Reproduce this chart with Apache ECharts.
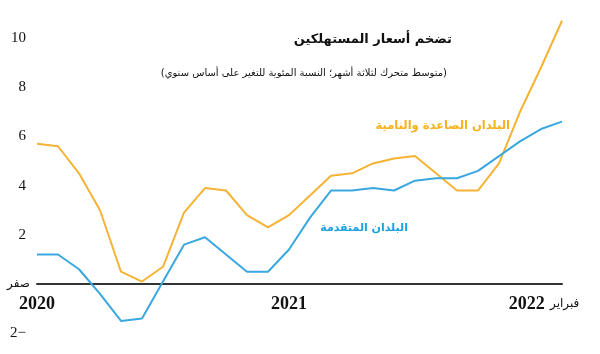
<!DOCTYPE html>
<html>
<head>
<meta charset="utf-8">
<script src="https://cdn.jsdelivr.net/npm/echarts@6/dist/echarts.min.js"></script>
<style>
  html, body { margin: 0; padding: 0; background: #fff; }
  #chart { width: 600px; height: 354px; }
</style>
</head>
<body>
<div id="chart"></div>
<script>
// monthly points, Jan 2020 .. Feb 2022 (3-month moving avg, % y/y)
const months = [
  '2020-01','2020-02','2020-03','2020-04','2020-05','2020-06','2020-07','2020-08','2020-09','2020-10','2020-11','2020-12',
  '2021-01','2021-02','2021-03','2021-04','2021-05','2021-06','2021-07','2021-08','2021-09','2021-10','2021-11','2021-12',
  '2022-01','2022-02'
];
const emerging = [5.7, 5.6, 4.5, 3.0, 0.5, 0.1, 0.7, 2.9, 3.9, 3.8, 2.8, 2.3,
                  2.8, 3.6, 4.4, 4.5, 4.9, 5.1, 5.2, 4.5, 3.8, 3.8, 4.9, 7.0,
                  8.8, 10.7];
const advanced = [1.2, 1.2, 0.6, -0.4, -1.5, -1.4, 0.1, 1.6, 1.9, 1.2, 0.5, 0.5,
                  1.4, 2.7, 3.8, 3.8, 3.9, 3.8, 4.2, 4.3, 4.3, 4.6, 5.2, 5.8,
                  6.3, 6.6];

const xTickIndex = [0, 12, 25];
const xTickText = ['2020', '2021', '2022'];
const lastMonthName = 'فبراير';

const yTickValues = [-2, 0, 2, 4, 6, 8, 10];
const yTickText = ['2−', 'صفر', '2', '4', '6', '8', '10'];

const titleText = 'تضخم أسعار المستهلكين';
const subtitleText = '(متوسط متحرك لثلاثة أشهر؛ النسبة المئوية للتغير على أساس سنوي)';
const emergingName = 'البلدان الصاعدة والنامية';
const advancedName = 'البلدان المتقدمة';

const ORANGE = '#F5B335';
const BLUE = '#3AA8E0';
const arabicFont = '"DejaVu Sans", sans-serif';
const serifFont = '"Liberation Serif", "DejaVu Serif", serif';

const chart = echarts.init(document.getElementById('chart'), null, { renderer: 'canvas' });

const option = {
  backgroundColor: '#fff',
  animation: false,
  title: [
    {
      text: titleText,
      right: 143, top: 28,
      textStyle: { fontFamily: arabicFont, fontSize: 13, fontWeight: 'bold', color: '#111' }
    },
    {
      text: subtitleText,
      right: 148, top: 63,
      textStyle: { fontFamily: arabicFont, fontSize: 10, fontWeight: 'normal', color: '#111' }
    }
  ],
  graphic: [
    {
      type: 'text', right: 90, top: 120,
      style: { text: emergingName, fill: '#F5B21E', font: 'bold 11.5px ' + arabicFont }
    },
    {
      type: 'text', right: 192, top: 223,
      style: { text: advancedName, fill: '#1BA1E2', font: 'bold 11px ' + arabicFont }
    }
  ],
  grid: { left: 37, right: 38, top: 13.4, bottom: 20.8, containLabel: false, outerBoundsMode: 'none' },
  xAxis: {
    type: 'category',
    data: months,
    boundaryGap: false,
    axisLine: { onZero: true, lineStyle: { color: '#333', width: 2 } },
    axisTick: { show: false },
    splitLine: { show: false },
    axisLabel: {
      interval: (i) => xTickIndex.includes(i),
      margin: -38,
      formatter: (val, i) => {
        const k = xTickIndex.indexOf(i);
        if (k < 0) return '';
        if (i === months.length - 1) return '{y|' + xTickText[k] + '} {m|' + lastMonthName + '}';
        return '{y|' + xTickText[k] + '}';
      },
      rich: {
        y: { fontFamily: serifFont, fontSize: 18, fontWeight: 'bold', color: '#111' },
        m: { fontFamily: arabicFont, fontSize: 12, color: '#111', padding: [0, 36, 0, 2] }
      }
    }
  },
  yAxis: {
    type: 'value',
    min: -2, max: 11, interval: 2,
    axisLine: { show: false },
    axisTick: { show: false },
    splitLine: { show: false },
    axisLabel: {
      margin: 11,
      color: '#111',
      fontFamily: serifFont,
      fontSize: 15,
      formatter: (v) => {
        const k = yTickValues.indexOf(v);
        if (k < 0) return '';
        return v === 0 ? '{z|' + yTickText[k] + '}' : yTickText[k];
      },
      rich: {
        z: { fontFamily: arabicFont, fontSize: 12, color: '#111', padding: [0, -4, 0, 0] }
      }
    }
  },
  series: [
    {
      name: emergingName, type: 'line', data: emerging,
      symbol: 'none', lineStyle: { color: ORANGE, width: 2 }, z: 3
    },
    {
      name: advancedName, type: 'line', data: advanced,
      symbol: 'none', lineStyle: { color: BLUE, width: 2 }, z: 3
    }
  ]
};

chart.setOption(option);
</script>
</body>
</html>
